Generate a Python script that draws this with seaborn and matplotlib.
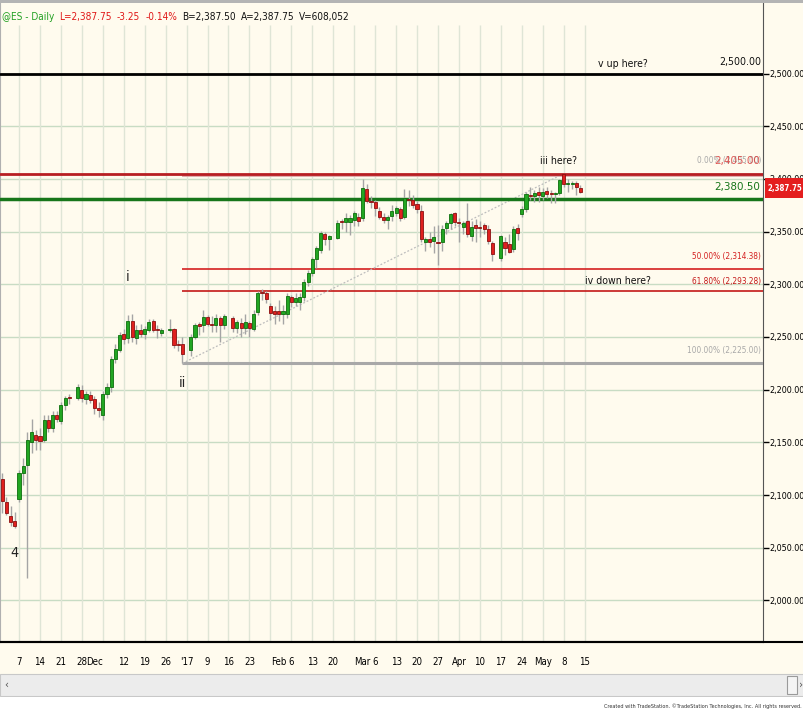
import numpy as np
import pandas as pd
import seaborn as sns
import matplotlib
matplotlib.use('Agg')
import matplotlib.pyplot as plt
import matplotlib.transforms as mtransforms
from matplotlib import font_manager
from matplotlib.patches import Rectangle
from matplotlib.lines import Line2D

# daily bars, @ES
dates = ['2016-11-01', '2016-11-02', '2016-11-03', '2016-11-04', '2016-11-07', '2016-11-08', '2016-11-09',
         '2016-11-10', '2016-11-11', '2016-11-14', '2016-11-15', '2016-11-16', '2016-11-17', '2016-11-18',
         '2016-11-21', '2016-11-22', '2016-11-23', '2016-11-25', '2016-11-28', '2016-11-29', '2016-11-30',
         '2016-12-01', '2016-12-02', '2016-12-05', '2016-12-06', '2016-12-07', '2016-12-08', '2016-12-09',
         '2016-12-12', '2016-12-13', '2016-12-14', '2016-12-15', '2016-12-16', '2016-12-19', '2016-12-20',
         '2016-12-21', '2016-12-22', '2016-12-23', '2016-12-27', '2016-12-28', '2016-12-29', '2016-12-30',
         '2017-01-03', '2017-01-04', '2017-01-05', '2017-01-06', '2017-01-09', '2017-01-10', '2017-01-11',
         '2017-01-12', '2017-01-13', '2017-01-17', '2017-01-18', '2017-01-19', '2017-01-20', '2017-01-23',
         '2017-01-24', '2017-01-25', '2017-01-26', '2017-01-27', '2017-01-30', '2017-01-31', '2017-02-01',
         '2017-02-02', '2017-02-03', '2017-02-06', '2017-02-07', '2017-02-08', '2017-02-09', '2017-02-10',
         '2017-02-13', '2017-02-14', '2017-02-15', '2017-02-16', '2017-02-17', '2017-02-21', '2017-02-22',
         '2017-02-23', '2017-02-24', '2017-02-27', '2017-02-28', '2017-03-01', '2017-03-02', '2017-03-03',
         '2017-03-06', '2017-03-07', '2017-03-08', '2017-03-09', '2017-03-10', '2017-03-13', '2017-03-14',
         '2017-03-15', '2017-03-16', '2017-03-17', '2017-03-20', '2017-03-21', '2017-03-22', '2017-03-23',
         '2017-03-24', '2017-03-27', '2017-03-28', '2017-03-29', '2017-03-30', '2017-03-31', '2017-04-03',
         '2017-04-04', '2017-04-05', '2017-04-06', '2017-04-07', '2017-04-10', '2017-04-11', '2017-04-12',
         '2017-04-13', '2017-04-17', '2017-04-18', '2017-04-19', '2017-04-20', '2017-04-21', '2017-04-24',
         '2017-04-25', '2017-04-26', '2017-04-27', '2017-04-28', '2017-05-01', '2017-05-02', '2017-05-03',
         '2017-05-04', '2017-05-05', '2017-05-08', '2017-05-09', '2017-05-10', '2017-05-11', '2017-05-12']

opens = [2115, 2093, 2080, 2075, 2096, 2121, 2129,
         2150, 2157, 2156, 2152, 2171, 2164, 2176,
         2170, 2185, 2193.4, 2192, 2200, 2191.5, 2195,
         2191, 2183, 2176, 2196, 2203, 2229, 2238,
         2252.5, 2249, 2265.5, 2249, 2256.6, 2253, 2257,
         2265, 2257.8, 2254, 2257, 2258, 2243, 2243,
         2238, 2250, 2262, 2261, 2269, 2262, 2261,
         2268, 2261.5, 2267.7, 2259, 2263.6, 2259, 2263.6,
         2258, 2273.4, 2292.3, 2292, 2279, 2274.6, 2274.6,
         2272, 2271.8, 2288, 2283, 2283, 2287.7, 2302,
         2311, 2323.7, 2333, 2347.4, 2342.7, 2344, 2359.4,
         2359, 2359, 2361, 2363.6, 2362.6, 2390.4, 2379.3,
         2377.8, 2369.8, 2364.1, 2361, 2364.8, 2368, 2371,
         2364, 2380.5, 2380, 2375.9, 2369.8, 2340.4, 2343,
         2341.4, 2339.8, 2340.4, 2353.7, 2357.9, 2367.4, 2359,
         2354.6, 2360, 2346, 2356.3, 2353.5, 2356, 2352.2,
         2339.5, 2324.7, 2340, 2338, 2333.5, 2353.7, 2366.4,
         2371, 2384.3, 2383.8, 2388, 2384, 2388.5, 2386.3,
         2386, 2386.3, 2404.4, 2395, 2395, 2396.4, 2391.6]

highs = [2121, 2098, 2090, 2084, 2124, 2135, 2160,
         2172, 2162, 2164, 2176, 2176, 2180, 2180,
         2188, 2194, 2196, 2205, 2204, 2199, 2199,
         2194, 2188, 2199, 2206, 2232, 2243, 2255,
         2258, 2271, 2272, 2261, 2262, 2260, 2267,
         2267, 2261, 2259, 2267, 2259, 2247, 2250,
         2253, 2263, 2264, 2276, 2271, 2270, 2272,
         2270, 2272, 2270, 2266, 2268, 2272, 2265,
         2276, 2294, 2296, 2294, 2282, 2279, 2285,
         2280, 2292, 2290, 2292, 2292, 2305, 2314,
         2326, 2336, 2351, 2350, 2347, 2361, 2362,
         2368, 2366, 2370, 2368, 2400, 2395, 2384,
         2380, 2373, 2368, 2366, 2375, 2374, 2373,
         2390, 2389, 2385, 2379, 2375, 2345, 2350,
         2355, 2356, 2356, 2360, 2368, 2369, 2363,
         2360, 2377, 2360, 2362, 2360, 2358, 2356,
         2341, 2347, 2345, 2348, 2355, 2357, 2374,
         2388, 2392, 2389, 2392, 2391, 2392, 2389,
         2388, 2400, 2405, 2400, 2398, 2398, 2394]

lows = [2083, 2081, 2071, 2069, 2093, 2110, 2021,
        2140, 2143, 2143, 2150, 2160, 2160, 2169,
        2167, 2181, 2186, 2190, 2188, 2186, 2187,
        2177, 2174, 2171, 2192, 2198, 2225, 2236,
        2243, 2244, 2245, 2243, 2250, 2248, 2255,
        2255, 2249, 2251, 2255, 2240, 2237, 2225,
        2232, 2248, 2252, 2255, 2260, 2255, 2255,
        2245.5, 2258, 2255, 2254, 2250, 2253, 2250,
        2256, 2271, 2285, 2282, 2266, 2262, 2265,
        2262, 2268, 2278, 2279, 2276, 2284, 2298,
        2308, 2315, 2330, 2337, 2333, 2343, 2352,
        2350, 2347, 2355, 2355, 2360, 2377, 2372,
        2365, 2362, 2358, 2352, 2360, 2365, 2360,
        2362, 2374, 2372, 2368, 2340, 2332, 2335,
        2330, 2318, 2332, 2348, 2352, 2355, 2340,
        2348, 2345, 2341, 2340, 2345, 2348, 2338,
        2322, 2322, 2328, 2330, 2331, 2342, 2364,
        2369, 2380, 2378, 2378, 2380, 2382, 2377,
        2377, 2385, 2392, 2388, 2390, 2385, 2387]

closes = [2094, 2083, 2074, 2071, 2121, 2128, 2152,
          2160, 2152, 2151, 2171, 2164, 2176, 2172,
          2185, 2192, 2192.4, 2203, 2192, 2195.5, 2190,
          2183, 2181, 2196, 2203, 2229, 2239, 2252,
          2248, 2265.5, 2250, 2256.6, 2253, 2257.6, 2264,
          2256.6, 2257, 2257, 2258, 2242, 2242, 2234,
          2250, 2261.5, 2260, 2269, 2262, 2261, 2268,
          2261, 2270, 2258.8, 2264.5, 2259, 2264, 2259,
          2272, 2291.5, 2291.7, 2286, 2273, 2271.5, 2272,
          2274.6, 2289, 2283.5, 2286.7, 2288, 2302, 2311,
          2323.7, 2334.7, 2349, 2342.7, 2345.8, 2358.4, 2359,
          2363, 2362.6, 2367.4, 2360.3, 2391.6, 2379.3, 2378.4,
          2372.7, 2364.1, 2361, 2364, 2369.8, 2372, 2363,
          2381.6, 2380, 2375.2, 2371.2, 2342.7, 2343, 2340.4,
          2345.2, 2339.5, 2352.2, 2358.4, 2366.4, 2359.4, 2357.9,
          2357.9, 2347.4, 2354.6, 2353.1, 2353, 2352, 2341.4,
          2328.7, 2345.8, 2334, 2331, 2352.2, 2348.4, 2371.2,
          2385.7, 2383.8, 2387, 2384.5, 2388, 2386, 2385.7,
          2386.5, 2398.9, 2395.2, 2395.2, 2396, 2392.6, 2387.75]

# levels drawn on the chart
fib_labels = ['0.00% (2,405.00)', '50.00% (2,314.38)', '61.80% (2,293.28)', '100.00% (2,225.00)']
fib_prices = [2405.00, 2314.38, 2293.28, 2225.00]
fib_start = '2016-12-30'
trend_dates = ['2016-12-30', '2017-05-08']
trend_prices = [2225.00, 2405.00]
wave_labels = ['4', 'i', 'ii']
wave_dates = ['2016-11-04', '2016-12-13', '2016-12-30']
wave_prices = [2045, 2307, 2206]

tick_dates = ['2016-11-07', '2016-11-14', '2016-11-21', '2016-11-28', '2016-12-01', '2016-12-12', '2016-12-19',
              '2016-12-26', '2017-01-02', '2017-01-09', '2017-01-16', '2017-01-23', '2017-02-01', '2017-02-06',
              '2017-02-13', '2017-02-20', '2017-03-01', '2017-03-06', '2017-03-13', '2017-03-20', '2017-03-27',
              '2017-04-03', '2017-04-10', '2017-04-17', '2017-04-24', '2017-05-01', '2017-05-08', '2017-05-15']
tick_labels = ['7', '14', '21', '28', 'Dec', '12', '19', '26', "'17", '9', '16', '23', 'Feb', '6',
               '13', '20', 'Mar', '6', '13', '20', '27', 'Apr', '10', '17', '24', 'May', '8', '15']


def pos(d):
    # session slot, weekdays counted from the first bar
    return np.busday_count(np.datetime64('2016-11-01'), np.datetime64(d, 'D'))


sns.set_style('white')

# the chart text is very narrow: take a condensed face if there is one
narrow = None
for f in font_manager.fontManager.ttflist:
    cond = ('Narrow' in f.name or 'Condensed' in f.name
            or f.stretch in ('condensed', 'semi-condensed', 'extra-condensed', 'ultra-condensed'))
    if cond and f.style == 'normal' and f.weight in (400, 'normal', 'regular', 'book'):
        narrow = f
        break
if narrow is not None:
    plt.rcParams['font.family'] = [narrow.name, 'DejaVu Sans']
    plt.rcParams['font.stretch'] = narrow.stretch
else:
    plt.rcParams['font.family'] = ['Liberation Sans', 'DejaVu Sans']

BG = '#FFFBEE'
W, H = 804, 713
fig = plt.figure(figsize=(W / 100, H / 100), dpi=100, facecolor=BG)
rend = fig.canvas.get_renderer()


def width(s, size, weight='normal'):
    t = fig.text(0, 0, s, fontsize=size, fontweight=weight)
    w = t.get_window_extent(renderer=rend).width
    t.remove()
    return w


def fit(s, px, weight='normal'):
    # font size that makes s about px pixels wide
    return 10 * px / width(s, 10, weight)


s_ax = min(fit('2,500.00', 36), 10)
s_tick = min(s_ax * 1.08, 10)
s_head = min(fit('@ES - Daily', 52), 10.5)
s_note = min(fit('iv down here?', 66), 9.5)
s_fib = min(fit('50.00% (2,314.38)', 70), 8)
s_lvl = min(fit('2,380.50', 46), 9.5)
s_box = min(fit('2,387.75', 35, 'bold'), 10)
s_foot = min(fit('Created with TradeStation. \u00a9TradeStation Technologies, Inc. All rights reserved.', 198), 6.5)
s_wave = min(s_ax * 1.6, 12)

ax = fig.add_axes([0, (H - 642) / H, 763 / W, 639 / H])
ax.set_facecolor(BG)

df = pd.DataFrame({'date': dates, 'open': opens, 'high': highs, 'low': lows, 'close': closes})
df['x'] = [pos(d) for d in df['date']]
up = df['close'] > df['open']
dn = df['close'] < df['open']
flat = df['close'] == df['open']

ymin, ymax = 1960.6, 2566.9
ax.set_xlim(-0.535, 181.57)
ax.set_ylim(ymin, ymax)

# grid
for p in range(2000, 2501, 50):
    ax.axhline(p, color='#C8DCC4', lw=1, zorder=0)
grid_x = [pos(d) for d in pd.date_range('2016-11-07', '2017-05-15', freq='W-MON').strftime('%Y-%m-%d')]
ax.vlines(grid_x, ymin, 2546, color='#DFE5D6', lw=1, zorder=0)

# user lines
ax.axhline(2500.00, color='black', lw=2, zorder=4)
ax.axhline(2405.00, color='#B81E22', lw=2, zorder=4)
ax.axhline(2380.50, color='#17761A', lw=2.5, zorder=4)

# fib retracement
fx0 = pos(fib_start)
fib_colors = ['#D9A0A0', '#D42020', '#C41818', '#A8A8A8']
fib_widths = [1.2, 1.2, 1.2, 2.2]
for p, c, w in zip(fib_prices, fib_colors, fib_widths):
    off = -1.8 if p == 2405.00 else 0
    ax.hlines(p + off, fx0, 181.57, color=c, lw=w, zorder=3)
sns.lineplot(x=[pos(d) for d in trend_dates], y=trend_prices, ax=ax, color='#BDBDBD', lw=0.9,
             linestyle=(0, (1.5, 1.5)), zorder=3)

# candles
ax.vlines(df['x'], df['low'], df['high'], color='#A5A5A5', lw=1, zorder=5)
ht = (df['close'] - df['open']).abs().clip(lower=1.0)
ax.bar(df['x'][up], ht[up], bottom=df['open'][up], width=0.74, color='#22A622',
       edgecolor='#0C6E0C', lw=0.6, zorder=6)
ax.bar(df['x'][dn], ht[dn], bottom=df['close'][dn], width=0.74, color='#E0201E',
       edgecolor='#8A1010', lw=0.6, zorder=6)
ax.bar(df['x'][flat], 1.0, bottom=df['open'][flat] - 0.5, width=0.74, color='#909090', lw=0, zorder=6)

# wave labels
for t, d, p in zip(wave_labels, wave_dates, wave_prices):
    ax.text(pos(d), p, t, ha='center', va='center', fontsize=s_wave, color='#222222', zorder=7)

# annotations
bt = mtransforms.blended_transform_factory(ax.transAxes, ax.transData)
ax.text(623 / 763, 2509, 'v up here?', transform=bt, ha='center', va='center', fontsize=s_note, color='#111111')
ax.text(761 / 763, 2511, '2,500.00', transform=bt, ha='right', va='center', fontsize=s_lvl * 0.92, color='#111111')
ax.text(540 / 763, 2417, 'iii here?', transform=bt, ha='left', va='center', fontsize=s_note, color='#111111')
ax.text(761 / 763, 2417, fib_labels[0], transform=bt, ha='right', va='center', fontsize=s_fib, color='#A8A8A8')
ax.text(760 / 763, 2417, '2,405.00', transform=bt, ha='right', va='center', fontsize=s_lvl,
        color='#D83030', alpha=0.8)
ax.text(760 / 763, 2392, '2,380.50', transform=bt, ha='right', va='center', fontsize=s_lvl, color='#17761A')
ax.text(761 / 763, 2326, fib_labels[1], transform=bt, ha='right', va='center', fontsize=s_fib, color='#D42020')
ax.text(761 / 763, 2303, fib_labels[2], transform=bt, ha='right', va='center', fontsize=s_fib, color='#C41818')
ax.text(585 / 763, 2303, 'iv down here?', transform=bt, ha='left', va='center', fontsize=s_note, color='#111111')
ax.text(761 / 763, 2237, fib_labels[3], transform=bt, ha='right', va='center', fontsize=s_fib, color='#A8A8A8')

# axes
ax.yaxis.tick_right()
ax.set_yticks(range(2000, 2501, 50))
ax.set_yticklabels([f'{v:,.2f}' for v in range(2000, 2501, 50)], fontsize=s_ax)
ax.set_xticks([pos(d) for d in tick_dates])
ax.set_xticklabels(tick_labels, fontsize=s_tick)
ax.tick_params(axis='y', direction='out', length=4, width=1, pad=0.5, colors='black')
ax.tick_params(axis='x', direction='out', length=4, width=0.8, pad=7, colors='black')
ax.spines['top'].set_visible(False)
ax.spines['left'].set_color('#B0B0B0')
ax.spines['right'].set_color('#555555')
ax.spines['bottom'].set_color('black')
ax.spines['bottom'].set_linewidth(1.5)

# last price marker
fig.add_artist(Rectangle((765 / W, (H - 198) / H), 39 / W, 20 / H, fc='#E41E1E', lw=0))
fig.text(784.5 / W, (H - 188) / H, '2,387.75', ha='center', va='center', fontsize=s_box,
         color='white', fontweight='bold')

# window chrome
fig.add_artist(Line2D([0, 1], [(H - 642) / H] * 2, color='black', lw=1.5))
fig.add_artist(Rectangle((0, 1 - 2.5 / H), 1, 2.5 / H, color='#B4B4B4', lw=0))
fig.add_artist(Rectangle((0, (H - 696) / H), 1, 22 / H, fc='#ECECEC', ec='#C8C8C8', lw=0.8))
fig.add_artist(Rectangle((0, 0), 1, (H - 697) / H, fc='white', lw=0))
fig.add_artist(Rectangle((787 / W, (H - 694) / H), 10 / W, 18 / H, fc='#F4F4F4', ec='#9A9A9A', lw=0.8))
fig.text(4 / W, (H - 685) / H, '\u2039', fontsize=8, color='#555555', va='center')
fig.text(799 / W, (H - 685) / H, '\u203a', fontsize=8, color='#555555', va='center')
fig.text(802 / W, (H - 706) / H, 'Created with TradeStation. \u00a9TradeStation Technologies, Inc. All rights reserved.',
         ha='right', va='center', fontsize=s_foot, color='#333333')

# header, segments laid end to end
hy = (H - 17) / H
head = [('@ES - Daily', '#22A022'), ('L=2,387.75', '#E01818'), ('-3.25', '#E01818'),
        ('-0.14%', '#E01818'), ('B=2,387.50', '#111111'), ('A=2,387.75', '#111111'),
        ('V=608,052', '#111111')]
hx = 2
for s, c in head:
    fig.text(hx / W, hy, s, fontsize=s_head, color=c, va='center')
    hx += width(s, s_head) + 5

fig.savefig('out.png', dpi=100, facecolor=BG)
plt.close(fig)
